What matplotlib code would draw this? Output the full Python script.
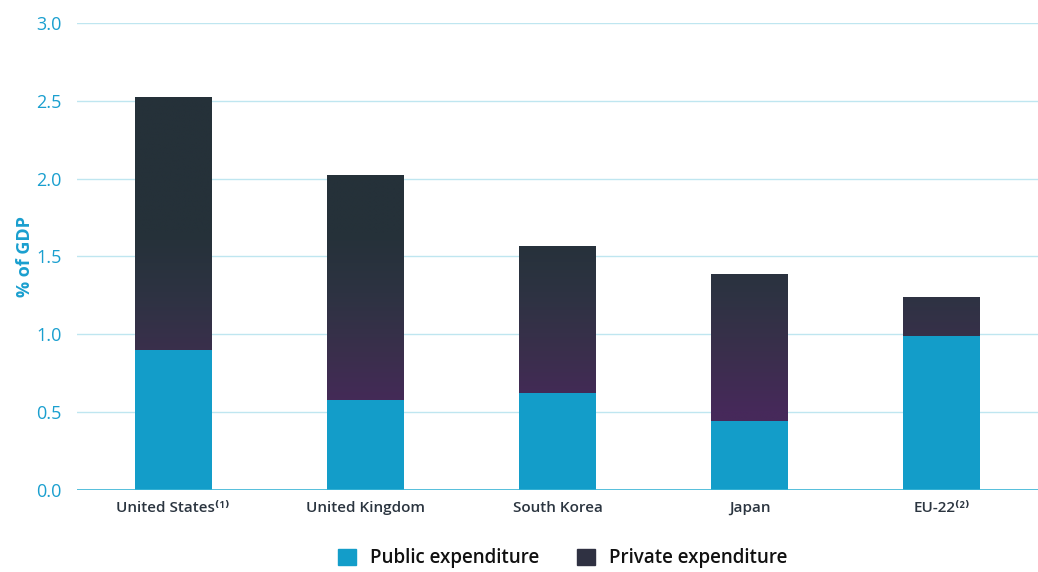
import numpy as np
import matplotlib
matplotlib.use("Agg")
import matplotlib.pyplot as plt
from matplotlib.colors import LinearSegmentedColormap, Normalize
from matplotlib.patches import Rectangle

categories = ["United States⁽¹⁾", "United Kingdom", "South Korea", "Japan", "EU-22⁽²⁾"]
public = [0.90, 0.58, 0.62, 0.44, 0.99]
private = [1.62, 1.44, 0.94, 0.94, 0.245]
yticks = [0.0, 0.5, 1.0, 1.5, 2.0, 2.5, 3.0]

plt.rcParams['font.family'] = ['Open Sans', 'DejaVu Sans']

CYAN = "#139dc9"
TICK = "#1a9fcf"
TXT = "#2b3540"
grad = LinearSegmentedColormap.from_list("g", ["#46295a", "#3a2f4c", "#2d3342", "#253139"])
norm = Normalize(0.5, 1.65)

fig = plt.figure(figsize=(10.38, 5.72), dpi=100)
ax = fig.add_axes([0.0742, 0.1434, 0.9258, 0.8164])
x = np.arange(len(categories))
w = 0.4

ax.bar(x, public, width=w, color=CYAN, zorder=3)
for xi, b, h in zip(x, public, private):
    top = b + h
    ys = np.linspace(top, b, 200).reshape(-1, 1)
    ax.imshow(grad(norm(ys)), extent=[xi - w / 2, xi + w / 2, b, top],
              aspect='auto', zorder=3, interpolation='bilinear')

ax.set_xlim(-0.5, 4.5)
ax.set_ylim(0, 3.0)
ax.set_yticks(yticks)
ax.set_yticklabels([f"{v:.1f}" for v in yticks])
ax.set_xticks(x)
ax.set_xticklabels(categories, fontsize=11, color=TXT, fontweight='semibold')
ax.tick_params(axis='y', length=0, pad=11, labelsize=13, labelcolor=TICK)
ax.tick_params(axis='x', length=0, pad=8)
ax.grid(axis='y', color="#bfe6f0", linewidth=1.0, zorder=0)
for s in ax.spines.values():
    s.set_visible(False)
ax.axhline(0, color="#3bb5d6", linewidth=1.2, zorder=5)
ax.set_ylabel("% of GDP", color=TICK, fontsize=13, fontweight='bold', labelpad=2)

h1 = Rectangle((0, 0), 1, 1, color=CYAN)
h2 = Rectangle((0, 0), 1, 1, color="#2f3142")
fig.legend([h1, h2], ["Public expenditure", "Private expenditure"], loc='center',
           bbox_to_anchor=(0.542, 0.024), ncol=2, frameon=False,
           handlelength=0.95, handleheight=0.95, columnspacing=2.0, handletextpad=0.75,
           labelcolor="#111111", prop={'weight': 'semibold', 'size': 13.5})

fig.savefig("out.png", dpi=100)
